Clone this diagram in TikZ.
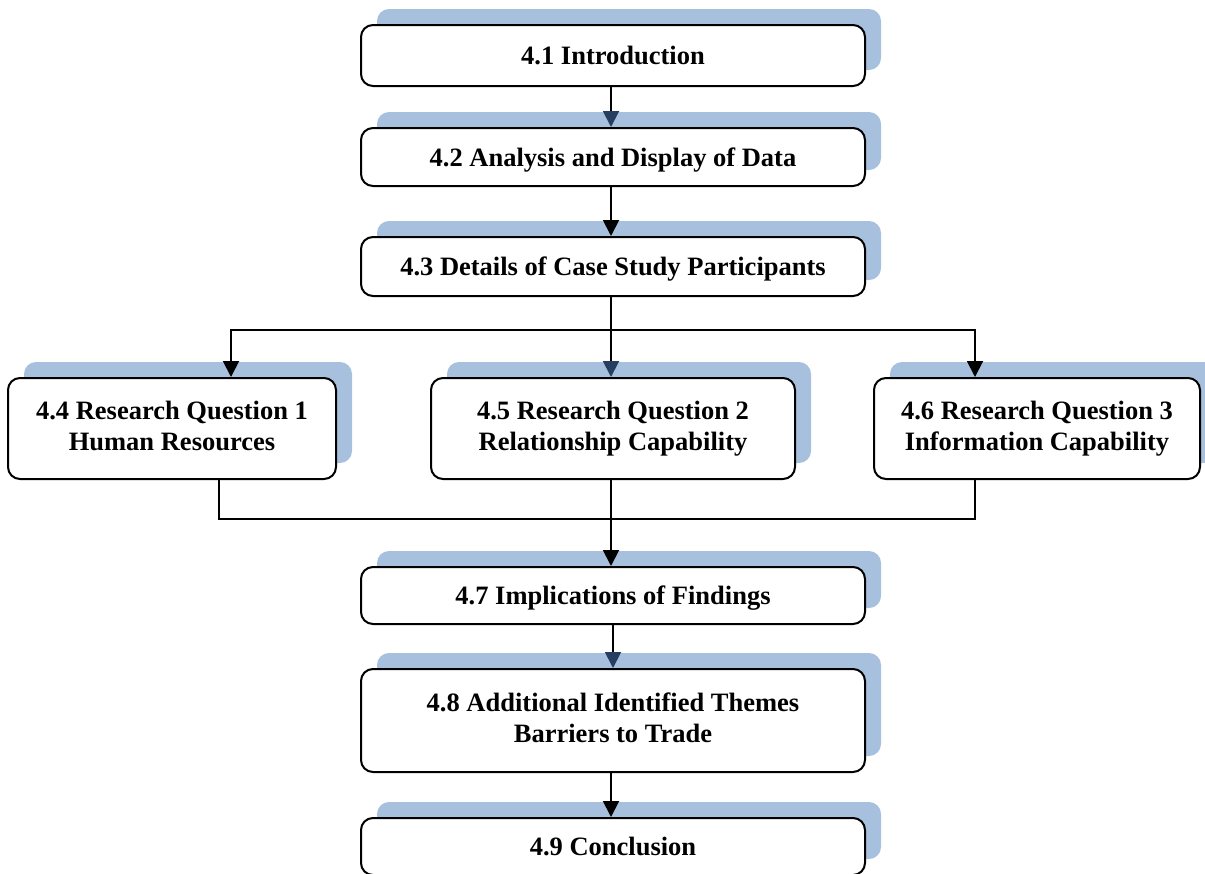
\documentclass[tikz,border=0pt]{standalone}
\usepackage{fontspec}
\setmainfont{Liberation Serif}
\usetikzlibrary{arrows.meta,shadows}
\definecolor{shadowblue}{RGB}{167,192,222}
\definecolor{headnavy}{RGB}{38,62,96}
\tikzset{
  box/.style={draw=black, line width=2pt, fill=white, rounded corners=12pt,
    align=center, font=\fontsize{26.5}{31}\selectfont\bfseries, inner sep=0pt,
    general shadow={fill=shadowblue, draw=none, shadow xshift=16pt, shadow yshift=16pt}},
  oneline/.style={box, text height=18pt, text depth=0pt},
  twoline/.style={box, text depth=6pt},
  conn/.style={line width=1.9pt, draw=black},
  arr/.style={conn, -{Triangle[length=16pt,width=16pt]}},
  arrnavy/.style={conn, -{Triangle[length=16pt,width=16pt,color=headnavy]}}
}
\begin{document}
\begin{tikzpicture}[x=1pt,y=-1pt]
\useasboundingbox (0,0) rectangle (1205,873);
\clip (0,0) rectangle (1205,873);
\node[oneline, minimum width=504pt, minimum height=61pt] (n1) at (613,55.5) {4.1 Introduction};
\node[oneline, minimum width=504pt, minimum height=58pt] (n2) at (613,157) {4.2 Analysis and Display of Data};
\node[oneline, minimum width=504pt, minimum height=59pt] (n3) at (613,266.5) {4.3 Details of Case Study Participants};
\node[twoline, minimum width=328pt, minimum height=101pt] (n4) at (172,428.5) {4.4 Research Question 1\\Human Resources};
\node[twoline, minimum width=364pt, minimum height=101pt] (n5) at (613,428.5) {4.5 Research Question 2\\Relationship Capability};
\node[twoline, minimum width=326pt, minimum height=101pt] (n6) at (1037,428.5) {4.6 Research Question 3\\Information Capability};
\node[oneline, minimum width=504pt, minimum height=57pt] (n7) at (613,595.5) {4.7 Implications of Findings};
\node[twoline, minimum width=504pt, minimum height=103pt] (n8) at (613,720.5) {4.8 Additional Identified Themes\\Barriers to Trade};
\node[oneline, minimum width=504pt, minimum height=57pt] (n9) at (613,846.5) {4.9 Conclusion};

\coordinate (split) at (611,330);
\coordinate (merge) at (611,519);

\draw[arrnavy] ([xshift=-2pt]n1.south) -- ([xshift=-2pt]n2.north);
\draw[arr] ([xshift=-2pt]n2.south) -- ([xshift=-2pt]n3.north);
\draw[arrnavy] ([xshift=-2pt]n3.south) -- ([xshift=-2pt]n5.north);
\draw[arr] (split) -| ([xshift=59pt]n4.north);
\draw[arr] (split) -| ([xshift=-62pt]n6.north);
\draw[conn] ([xshift=47pt]n4.south) |- (merge) -| ([xshift=-62pt]n6.south);
\draw[arr] ([xshift=-2pt]n5.south) -- ([xshift=-2pt]n7.north);
\draw[arrnavy] (n7.south) -- (n8.north);
\draw[arr] ([xshift=-2pt]n8.south) -- ([xshift=-2pt]n9.north);
\end{tikzpicture}
\end{document}
